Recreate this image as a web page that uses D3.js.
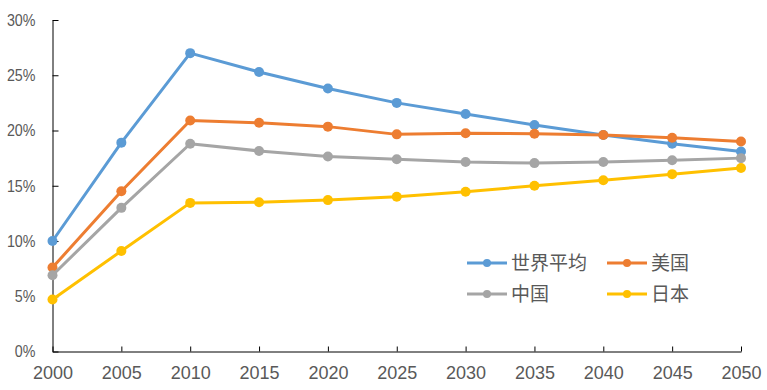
<!DOCTYPE html>
<html>
<head>
<meta charset="utf-8">
<script src="https://cdn.jsdelivr.net/npm/d3@7"></script>
<style>
  body { margin: 0; background: #fff; }
  text { fill: #595959; }
</style>
</head>
<body>
<div id="chart"></div>
<script>
// years on the x axis
var years = [2000, 2005, 2010, 2015, 2020, 2025, 2030, 2035, 2040, 2045, 2050];
// values in percent
var world = [10.0, 18.9, 27.0, 25.3, 23.8, 22.5, 21.5, 20.5, 19.6, 18.8, 18.1];
var usa   = [7.6, 14.5, 20.9, 20.7, 20.35, 19.65, 19.75, 19.7, 19.6, 19.35, 19.0];
var china = [6.9, 13.0, 18.8, 18.15, 17.65, 17.4, 17.15, 17.05, 17.15, 17.3, 17.5];
var japan = [4.7, 9.1, 13.45, 13.5, 13.7, 14.0, 14.45, 15.0, 15.5, 16.05, 16.6];
var seriesNames = ["世界平均", "美国", "中国", "日本"];
var yTicks = [0, 5, 10, 15, 20, 25, 30];

var colors = ["#5B9BD5", "#ED7D31", "#A5A5A5", "#FFC000"];
var series = [world, usa, china, japan].map(function(v, i) {
    return { name: seriesNames[i], color: colors[i], values: v };
});

var W = 767, H = 390;
var margin = { top: 20, right: 26, bottom: 38.5, left: 52.5 };

var svg = d3.select("#chart").append("svg")
    .attr("width", W)
    .attr("height", H);

var x = d3.scaleLinear()
    .domain([2000, 2050])
    .range([margin.left, W - margin.right]);

var y = d3.scaleLinear()
    .domain([0, 30])
    .range([H - margin.bottom, margin.top]);

var axisFont = "'Liberation Sans', Arial, sans-serif";

// x axis, ticks pointing up into the plot
var xAxis = svg.append("g")
    .attr("transform", "translate(0," + y(0) + ")")
    .call(d3.axisBottom(x).tickValues(years).tickFormat(d3.format("d"))
        .tickSizeInner(-5).tickSizeOuter(0).tickPadding(15));
xAxis.select(".domain").attr("stroke", "#000");
xAxis.selectAll(".tick line").attr("stroke", "#000");
xAxis.selectAll("text")
    .attr("fill", "#595959")
    .style("font-family", axisFont)
    .style("font-size", "18px");

// y axis, ticks pointing right
var yAxis = svg.append("g")
    .attr("transform", "translate(" + x(2000) + ",0)")
    .call(d3.axisLeft(y).tickValues(yTicks).tickFormat(function(d) { return d + "%"; })
        .tickSizeInner(-6).tickSizeOuter(0).tickPadding(17));
yAxis.select(".domain").attr("stroke", "#000");
yAxis.selectAll(".tick line").attr("stroke", "#000");
yAxis.selectAll("text")
    .attr("fill", "#595959")
    .style("font-family", axisFont)
    .style("font-size", "17px")
    .each(function() {
        // the original labels are narrow, squeeze them a bit
        var len = this.getComputedTextLength();
        d3.select(this)
            .attr("textLength", len * 0.84)
            .attr("lengthAdjust", "spacingAndGlyphs");
    });

var line = d3.line()
    .x(function(d, i) { return x(years[i]); })
    .y(function(d) { return y(d); });

// each series: line then its markers
series.forEach(function(s) {
    var g = svg.append("g");
    g.append("path")
        .datum(s.values)
        .attr("fill", "none")
        .attr("stroke", s.color)
        .attr("stroke-width", 3)
        .attr("stroke-linejoin", "round")
        .attr("d", line);
    g.selectAll("circle")
        .data(s.values)
        .enter()
        .append("circle")
        .attr("cx", function(d, i) { return x(years[i]); })
        .attr("cy", function(d) { return y(d); })
        .attr("r", 5)
        .attr("fill", s.color);
});

// legend, 2 x 2
var legendX = [467, 607], legendY = [263, 294];
series.forEach(function(s, i) {
    var lx = legendX[i % 2], ly = legendY[Math.floor(i / 2)];
    var g = svg.append("g").attr("transform", "translate(" + lx + "," + ly + ")");
    g.append("line")
        .attr("x1", 0).attr("x2", 40)
        .attr("stroke", s.color)
        .attr("stroke-width", 3);
    g.append("circle")
        .attr("cx", 20).attr("r", 4)
        .attr("fill", s.color);
    g.append("text")
        .attr("x", 44)
        .attr("dy", "0.35em")
        .style("font-family", "'Noto Sans CJK SC', sans-serif")
        .style("font-size", "19px")
        .text(s.name);
});
</script>
</body>
</html>
